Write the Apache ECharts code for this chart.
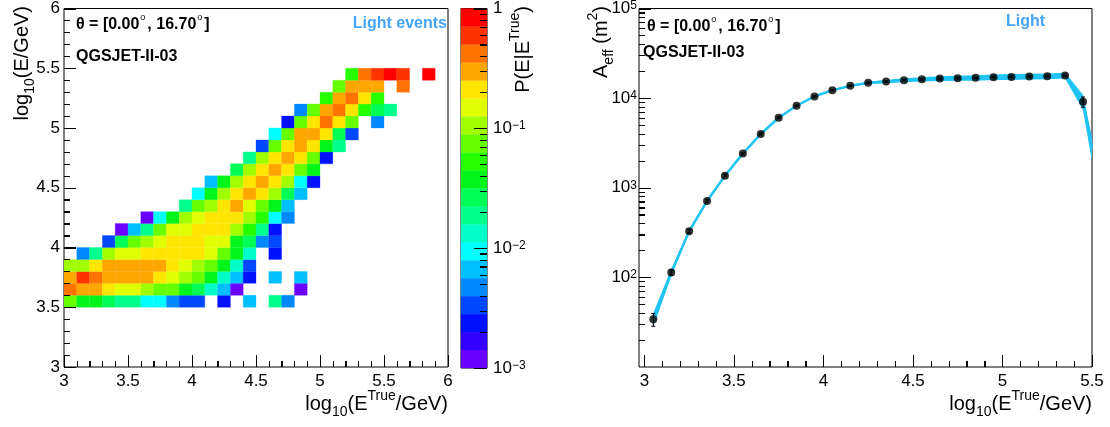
<!DOCTYPE html>
<html>
<head>
<meta charset="utf-8">
<script src="https://cdn.jsdelivr.net/npm/echarts@6/dist/echarts.min.js"></script>
<style>
html, body { margin: 0; padding: 0; background: #fff; }
#chart { width: 1110px; height: 427px; background: #fff; }
</style>
</head>
<body>
<div id="chart"></div>
<script>
// P(E|E_true) migration matrix, light events: [log10(Etrue) bin low edge, log10(E) bin low edge, P]
const migrationCells = [
  [3.0,3.5,0.075],[3.1,3.5,0.038],[3.2,3.5,0.038],[3.3,3.5,0.027],[3.4,3.5,0.019],[3.5,3.5,0.019],[3.6,3.5,0.0094],[3.7,3.5,0.0094],[3.8,3.5,0.0047],[3.9,3.5,0.0033],[4.0,3.5,0.0033],[4.2,3.5,0.0024],[4.4,3.5,0.0067],[4.6,3.5,0.019],[4.7,3.5,0.0047],
  [3.0,3.6,0.42],[3.1,3.6,0.30],[3.2,3.6,0.30],[3.3,3.6,0.21],[3.4,3.6,0.15],[3.5,3.6,0.15],[3.6,3.6,0.106],[3.7,3.6,0.075],[3.8,3.6,0.075],[3.9,3.6,0.038],[4.0,3.6,0.027],[4.1,3.6,0.013],[4.2,3.6,0.0067],[4.3,3.6,0.0012],[4.8,3.6,0.0012],
  [3.0,3.7,0.30],[3.1,3.7,0.60],[3.2,3.7,0.42],[3.3,3.7,0.30],[3.4,3.7,0.30],[3.5,3.7,0.30],[3.6,3.7,0.30],[3.7,3.7,0.21],[3.8,3.7,0.15],[3.9,3.7,0.106],[4.0,3.7,0.075],[4.1,3.7,0.038],[4.2,3.7,0.013],[4.3,3.7,0.0067],[4.4,3.7,0.0024],[4.6,3.7,0.0067],[4.8,3.7,0.0067],
  [3.0,3.8,0.106],[3.1,3.8,0.106],[3.2,3.8,0.21],[3.3,3.8,0.30],[3.4,3.8,0.30],[3.5,3.8,0.30],[3.6,3.8,0.30],[3.7,3.8,0.30],[3.8,3.8,0.21],[3.9,3.8,0.15],[4.0,3.8,0.106],[4.1,3.8,0.075],[4.2,3.8,0.038],[4.3,3.8,0.013],[4.4,3.8,0.0033],
  [3.1,3.9,0.0047],[3.2,3.9,0.019],[3.3,3.9,0.106],[3.4,3.9,0.15],[3.5,3.9,0.15],[3.6,3.9,0.21],[3.7,3.9,0.21],[3.8,3.9,0.21],[3.9,3.9,0.21],[4.0,3.9,0.21],[4.1,3.9,0.15],[4.2,3.9,0.075],[4.3,3.9,0.038],[4.4,3.9,0.013],[4.6,3.9,0.0024],
  [3.3,4.0,0.0033],[3.4,4.0,0.027],[3.5,4.0,0.075],[3.6,4.0,0.106],[3.7,4.0,0.15],[3.8,4.0,0.21],[3.9,4.0,0.21],[4.0,4.0,0.21],[4.1,4.0,0.15],[4.2,4.0,0.15],[4.3,4.0,0.038],[4.4,4.0,0.027],[4.5,4.0,0.0047],[4.6,4.0,0.0033],
  [3.4,4.1,0.0012],[3.5,4.1,0.0067],[3.6,4.1,0.019],[3.7,4.1,0.075],[3.8,4.1,0.15],[3.9,4.1,0.15],[4.0,4.1,0.21],[4.1,4.1,0.21],[4.2,4.1,0.21],[4.3,4.1,0.106],[4.4,4.1,0.053],[4.5,4.1,0.019],[4.6,4.1,0.0024],
  [3.6,4.2,0.0012],[3.7,4.2,0.0094],[3.8,4.2,0.038],[3.9,4.2,0.106],[4.0,4.2,0.15],[4.1,4.2,0.21],[4.2,4.2,0.21],[4.3,4.2,0.21],[4.4,4.2,0.106],[4.5,4.2,0.053],[4.6,4.2,0.0094],[4.7,4.2,0.0047],
  [3.9,4.3,0.019],[4.0,4.3,0.075],[4.1,4.3,0.106],[4.2,4.3,0.21],[4.3,4.3,0.30],[4.4,4.3,0.15],[4.5,4.3,0.075],[4.6,4.3,0.038],[4.7,4.3,0.0067],
  [4.0,4.4,0.0094],[4.1,4.4,0.038],[4.2,4.4,0.106],[4.3,4.4,0.21],[4.4,4.4,0.30],[4.5,4.4,0.21],[4.6,4.4,0.106],[4.7,4.4,0.027],[4.8,4.4,0.0067],
  [4.1,4.5,0.0067],[4.2,4.5,0.038],[4.3,4.5,0.106],[4.4,4.5,0.21],[4.5,4.5,0.30],[4.6,4.5,0.21],[4.7,4.5,0.106],[4.8,4.5,0.0094],[4.9,4.5,0.0024],
  [4.3,4.6,0.027],[4.4,4.6,0.106],[4.5,4.6,0.21],[4.6,4.6,0.30],[4.7,4.6,0.21],[4.8,4.6,0.075],[4.9,4.6,0.038],
  [4.4,4.7,0.019],[4.5,4.7,0.106],[4.6,4.7,0.21],[4.7,4.7,0.30],[4.8,4.7,0.21],[4.9,4.7,0.075],[5.0,4.7,0.0024],
  [4.5,4.8,0.0033],[4.6,4.8,0.075],[4.7,4.8,0.21],[4.8,4.8,0.30],[4.9,4.8,0.21],[5.0,4.8,0.038],[5.1,4.8,0.019],
  [4.6,4.9,0.0094],[4.7,4.9,0.075],[4.8,4.9,0.30],[4.9,4.9,0.30],[5.0,4.9,0.21],[5.1,4.9,0.027],[5.2,4.9,0.0033],
  [4.7,5.0,0.0024],[4.8,5.0,0.075],[4.9,5.0,0.21],[5.0,5.0,0.42],[5.1,5.0,0.21],[5.2,5.0,0.075],[5.4,5.0,0.0047],
  [4.8,5.1,0.0047],[4.9,5.1,0.075],[5.0,5.1,0.30],[5.1,5.1,0.42],[5.2,5.1,0.21],[5.3,5.1,0.053],[5.4,5.1,0.027],[5.5,5.1,0.019],
  [5.0,5.2,0.053],[5.1,5.2,0.30],[5.2,5.2,0.42],[5.3,5.2,0.21],[5.4,5.2,0.053],
  [5.1,5.3,0.075],[5.2,5.3,0.30],[5.3,5.3,0.30],[5.4,5.3,0.30],[5.6,5.3,0.42],
  [5.2,5.4,0.053],[5.3,5.4,0.42],[5.4,5.4,0.60],[5.5,5.4,0.84],[5.6,5.4,0.60],[5.8,5.4,0.84]
];
const binWidth = 0.1;

// 20 contour colours, lowest band first (1e-3 ... 1, log spaced)
const palette = ['#6a00ff','#3300ff','#0011ff','#0048ff','#0088ff','#00bfff','#00ffff','#00ffc8','#00ff8c','#00ff55',
                 '#00f51a','#26ff00','#66ff00','#a0ff00','#e0ff00','#ffe600','#ffa600','#ff7300','#ff3300','#fe0000'];

// effective area, light events
const aeffEnergy = [3.05,3.15,3.25,3.35,3.45,3.55,3.65,3.75,3.85,3.95,4.05,4.15,4.25,4.35,4.45,4.55,4.65,4.75,4.85,4.95,5.05,5.15,5.25,5.35,5.45];
const aeffValue  = [34,113,327,711,1360,2405,3981,6040,8222,10440,12270,13710,14800,15310,15850,16250,16550,16680,16830,17100,17260,17420,17540,17850,9100];
const aeffError  = [5.5,8,15,25,40,60,90,120,150,180,200,220,230,240,250,250,260,260,260,270,270,270,280,280,1200];

// fitted curve and its band
const bandEnergy = [3.05,3.15,3.25,3.35,3.45,3.55,3.65,3.75,3.85,3.95,4.05,4.15,4.25,4.35,4.45,4.55,4.65,4.75,4.85,4.95,5.05,5.15,5.25,5.35,5.45,5.5];
const bandCentre = [34,113,327,711,1360,2405,3981,6040,8222,10440,12270,13710,14800,15310,15850,16250,16550,16680,16830,17100,17260,17420,17540,17850,9100,2800];
const bandLow    = [28,102,311,690,1333,2370,3920,5950,8100,10280,12020,13370,14360,14700,15060,15360,15560,15600,15650,15900,15970,16110,16220,16510,7300,1960];
const bandHigh   = [40,124,343,732,1387,2440,4040,6130,8345,10600,12520,14050,15240,15920,16640,17140,17540,17760,18010,18300,18550,18730,18860,19190,10900,3640];

const migTicks = [3, 3.5, 4, 4.5, 5, 5.5, 6];
const colorTicks = [0.001, 0.01, 0.1, 1];
const aeffXTicks = [3, 3.5, 4, 4.5, 5, 5.5];
const aeffYTicks = [100, 1000, 10000, 100000];

const MIG_MIN = 3, MIG_MAX = 6;
const AEFF_XMIN = 2.97, AEFF_XMAX = 5.5;
const AEFF_YMIN = 10, AEFF_YMAX = 100000;

const FONT = "'Liberation Sans', Arial, Helvetica, sans-serif";
const CYAN = '#1fc4f4';
const BLUE_TXT = '#45a5fa';

function logMinor(fromExp, toExp) {
  const out = [];
  for (let e = fromExp; e < toExp; e++) {
    for (let m = 2; m <= 9; m++) out.push(+(m * Math.pow(10, e)).toPrecision(3));
  }
  return out;
}
function linMinor(a, b) {
  const out = [];
  for (let v = a; v < b + 0.001; v += 0.1) out.push(+v.toFixed(1));
  return out;
}

// colour contour of a probability (log-spaced levels between 1e-3 and 1)
function bandColor(p) {
  let i = Math.floor((Math.log10(p) + 3) / 0.15);
  i = Math.max(0, Math.min(palette.length - 1, i));
  return palette[i];
}

function powLabel(v) {
  if (Math.abs(v - 1) < 1e-9) return '1';
  const e = Math.round(Math.log10(v));
  return '10{s|' + (e < 0 ? '\u2212' + (-e) : e) + '}';
}

function ls() { return { color: '#000', width: 1 }; }
const supRich = { s: { fontSize: 12, verticalAlign: 'top', lineHeight: 12, fontFamily: FONT, color: '#000' } };

// labels + major inward ticks; the frame comes from the grid border
function labelAxis(gridIndex, type, min, max, pos, ticks, labelMargin, fmt) {
  const lab = { show: true, color: '#000', fontSize: 17, fontFamily: FONT, margin: labelMargin, customValues: ticks };
  if (fmt) { lab.formatter = fmt; lab.rich = supRich; }
  return { gridIndex: gridIndex, type: type, min: min, max: max, position: pos, z: 20,
    axisLine: { show: false, onZero: false }, splitLine: { show: false },
    axisTick: { show: true, inside: true, length: pos === 'right' ? 13 : 12, lineStyle: ls(), customValues: ticks },
    axisLabel: lab };
}
// minor inward ticks only
function minorAxis(gridIndex, type, min, max, pos, ticks, len) {
  return { gridIndex: gridIndex, type: type, min: min, max: max, position: pos, z: 20,
    axisLine: { show: false, onZero: false }, splitLine: { show: false }, axisLabel: { show: false },
    axisTick: { show: true, inside: true, length: len, lineStyle: ls(), customValues: ticks } };
}

const colorBands = palette.map((c, i) => [Math.pow(10, -3 + 0.15 * i), Math.pow(10, -3 + 0.15 * (i + 1)), i]);

const chart = echarts.init(document.getElementById('chart'));

const titleRich = {
  n: { fontSize: 20, fontFamily: FONT, color: '#000', lineHeight: 30 },
  sub: { fontSize: 14, fontFamily: FONT, color: '#000', verticalAlign: 'bottom', lineHeight: 14 },
  sup: { fontSize: 14, fontFamily: FONT, color: '#000', verticalAlign: 'top', lineHeight: 14 }
};
const infoRich = {
  b: { fontSize: 16, fontWeight: 'bold', fontFamily: FONT, color: '#000', lineHeight: 24 },
  d: { fontSize: 9, fontFamily: FONT, color: '#000', verticalAlign: 'top', lineHeight: 9, padding: [0, 2, 0, 1] }
};

function txt(x, y, text, rich, align, rotation) {
  return {
    type: 'text', x: x, y: y, rotation: rotation || 0, z: 30,
    style: { text: text, rich: rich, align: align, verticalAlign: 'middle' }
  };
}

const gridBase = { show: true, borderColor: '#000', borderWidth: 1, backgroundColor: 'transparent' };

const texts = [
  txt(448, 404, '{n|log}{sub|10}{n|(E}{sup|True}{n|/GeV)}', titleRich, 'right'),
  txt(22, 6, '{n|log}{sub|10}{n|(E/GeV)}', titleRich, 'right', Math.PI / 2),
  txt(523, 6, '{n|P(E|E}{sup|True}{n|)}', titleRich, 'right', Math.PI / 2),
  txt(1092, 404, '{n|log}{sub|10}{n|(E}{sup|True}{n|/GeV)}', titleRich, 'right'),
  txt(601, 6, '{n|A}{sub|eff}{n| (m}{sup|2}{n|)}', titleRich, 'right', Math.PI / 2),
  txt(76, 25, '{b|\u03b8 = [0.00}{d|o}{b|, 16.70}{d|o}{b|]}', infoRich, 'left'),
  txt(76, 57, '{b|QGSJET-II-03}', infoRich, 'left'),
  { type: 'text', x: 447, y: 24, z: 30, style: { text: 'Light events', align: 'right', verticalAlign: 'middle',
      fill: BLUE_TXT, font: 'bold 16px ' + FONT } },
  txt(647, 27, '{b|\u03b8 = [0.00}{d|o}{b|, 16.70}{d|o}{b|]}', infoRich, 'left'),
  txt(643, 53, '{b|QGSJET-II-03}', infoRich, 'left'),
  { type: 'text', x: 1045, y: 22, z: 30, style: { text: 'Light', align: 'right', verticalAlign: 'middle',
      fill: BLUE_TXT, font: 'bold 16px ' + FONT } }
];

const option = {
  animation: false,
  grid: [
    Object.assign({ left: 64, top: 7, width: 384, height: 360 }, gridBase),
    Object.assign({ left: 461, top: 6, width: 26, height: 362 }, gridBase),
    Object.assign({ left: 639, top: 7, width: 453, height: 360 }, gridBase)
  ],
  xAxis: [
    labelAxis(0, 'value', MIG_MIN, MIG_MAX, 'bottom', migTicks, 6),
    minorAxis(0, 'value', MIG_MIN, MIG_MAX, 'bottom', linMinor(3, 6), 6),
    { gridIndex: 1, type: 'value', min: 0, max: 1, show: false },
    labelAxis(2, 'value', AEFF_XMIN, AEFF_XMAX, 'bottom', aeffXTicks, 6),
    minorAxis(2, 'value', AEFF_XMIN, AEFF_XMAX, 'bottom', linMinor(3, 5.5), 6)
  ],
  yAxis: [
    labelAxis(0, 'value', MIG_MIN, MIG_MAX, 'left', migTicks, 4),
    minorAxis(0, 'value', MIG_MIN, MIG_MAX, 'left', linMinor(3, 6), 6),
    labelAxis(1, 'log', 0.001, 1, 'right', colorTicks, 6, powLabel),
    minorAxis(1, 'log', 0.001, 1, 'right', logMinor(-3, 0), 7),
    labelAxis(2, 'log', AEFF_YMIN, AEFF_YMAX, 'left', aeffYTicks, 2, powLabel),
    minorAxis(2, 'log', AEFF_YMIN, AEFF_YMAX, 'left', logMinor(1, 5), 6)
  ],
  series: [
    { // migration matrix
      type: 'custom', xAxisIndex: 0, yAxisIndex: 0, clip: true,
      encode: { x: 0, y: 1 },
      data: migrationCells,
      renderItem: function (params, api) {
        const x0 = api.value(0), y0 = api.value(1);
        const a = api.coord([x0, y0]);
        const b = api.coord([x0 + binWidth, y0 + binWidth]);
        const col = bandColor(api.value(2));
        return { type: 'rect',
          shape: { x: a[0], y: b[1], width: b[0] - a[0], height: a[1] - b[1] },
          style: { fill: col, stroke: col, lineWidth: 0.3 } };
      }
    },
    { // colour bar
      type: 'custom', xAxisIndex: 2, yAxisIndex: 2,
      encode: { y: [0, 1] },
      data: colorBands,
      renderItem: function (params, api) {
        const a = api.coord([0, api.value(0)]);
        const b = api.coord([1, api.value(1)]);
        const col = palette[api.value(2)];
        return { type: 'rect',
          shape: { x: a[0], y: b[1], width: b[0] - a[0], height: a[1] - b[1] },
          style: { fill: col, stroke: col, lineWidth: 0.3 } };
      }
    },
    { // uncertainty band
      type: 'custom', xAxisIndex: 3, yAxisIndex: 4, clip: true, z: 2,
      data: [[bandEnergy[0], bandCentre[0]]],
      renderItem: function (params, api) {
        const up = bandEnergy.map((e, i) => api.coord([e, bandHigh[i]]));
        const dn = bandEnergy.map((e, i) => api.coord([e, bandLow[i]])).reverse();
        return { type: 'polygon', shape: { points: up.concat(dn) }, style: { fill: CYAN } };
      }
    },
    { // curve
      type: 'line', xAxisIndex: 3, yAxisIndex: 4, z: 3, clip: true,
      showSymbol: false, symbol: 'none',
      lineStyle: { color: CYAN, width: 2.5 },
      data: bandEnergy.map((e, i) => [e, bandCentre[i]])
    },
    { // error bars
      type: 'custom', xAxisIndex: 3, yAxisIndex: 4, z: 4,
      encode: { x: 0, y: [1, 2] },
      data: aeffEnergy.map((e, i) => [e, aeffValue[i] - aeffError[i], aeffValue[i] + aeffError[i]]),
      renderItem: function (params, api) {
        const lo = api.coord([api.value(0), api.value(1)]);
        const hi = api.coord([api.value(0), api.value(2)]);
        const st = { stroke: '#000', lineWidth: 1 };
        return { type: 'group', children: [
          { type: 'line', shape: { x1: lo[0], y1: lo[1], x2: hi[0], y2: hi[1] }, style: st },
          { type: 'line', shape: { x1: lo[0] - 2, y1: lo[1], x2: lo[0] + 2, y2: lo[1] }, style: st },
          { type: 'line', shape: { x1: hi[0] - 2, y1: hi[1], x2: hi[0] + 2, y2: hi[1] }, style: st }
        ] };
      }
    },
    { // measured points
      type: 'scatter', xAxisIndex: 3, yAxisIndex: 4, z: 5,
      symbol: 'circle', symbolSize: 8,
      itemStyle: { color: '#000' },
      data: aeffEnergy.map((e, i) => [e, aeffValue[i]])
    }
  ],
  graphic: texts
};

chart.setOption(option);

// ROOT-style inward ticks, also placed as overlay lines through the chart's own scales
const tickLines = [];
function addTick(gridIndex, point, len, dir) {
  const p = chart.convertToPixel({ gridIndex: gridIndex }, point);
  if (!p || isNaN(p[0]) || isNaN(p[1])) return;
  const x = dir === 0 ? Math.round(p[0]) + 0.5 : Math.round(p[0]);
  const y = dir === 0 ? Math.round(p[1]) : Math.round(p[1]) + 0.5;
  const x2 = dir === 1 ? x + len : (dir === 2 ? x - len : x);
  const y2 = dir === 0 ? y - len : y;
  tickLines.push({ type: 'line', z: 40, silent: true,
    shape: { x1: x, y1: y, x2: x2, y2: y2 },
    style: { stroke: '#000', lineWidth: 1 } });
}
migTicks.forEach(v => { addTick(0, [v, MIG_MIN], 12, 0); addTick(0, [MIG_MIN, v], 12, 1); });
linMinor(3, 6).forEach(v => { addTick(0, [v, MIG_MIN], 6, 0); addTick(0, [MIG_MIN, v], 6, 1); });
colorTicks.forEach(v => addTick(1, [1, v], 13, 2));
logMinor(-3, 0).forEach(v => addTick(1, [1, v], 7, 2));
aeffXTicks.forEach(v => addTick(2, [v, AEFF_YMIN], 12, 0));
linMinor(3, 5.5).forEach(v => addTick(2, [v, AEFF_YMIN], 6, 0));
aeffYTicks.forEach(v => addTick(2, [AEFF_XMIN, v], 12, 1));
logMinor(1, 5).forEach(v => addTick(2, [AEFF_XMIN, v], 6, 1));

chart.setOption({ graphic: texts.concat(tickLines) });
</script>
</body>
</html>
